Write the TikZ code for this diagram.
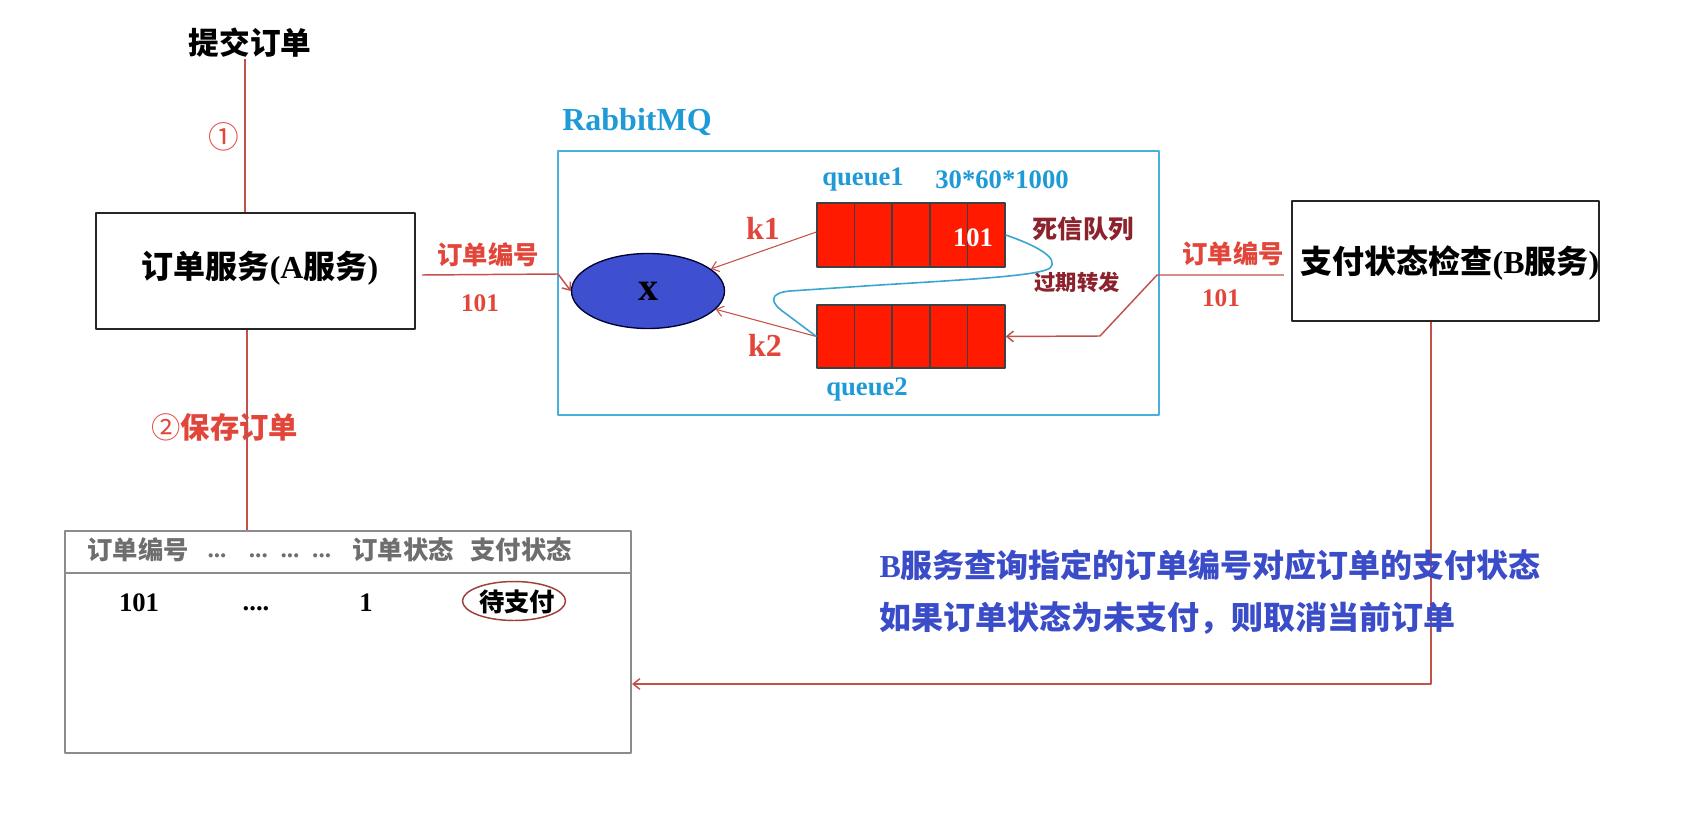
\documentclass[tikz,border=0pt]{standalone}
\usepackage{fontspec}
\setmainfont{Liberation Serif}
\newfontfamily\cjk{Noto Sans CJK SC}
\usetikzlibrary{arrows.meta,shapes.geometric,calc}
\definecolor{lred}{RGB}{196,80,74}
\definecolor{tred}{RGB}{226,70,58}
\definecolor{dred}{RGB}{140,34,44}
\definecolor{mqblue}{RGB}{30,154,214}
\definecolor{mqbox}{RGB}{72,176,220}
\definecolor{exfill}{RGB}{62,80,208}
\definecolor{qred}{RGB}{255,26,0}
\definecolor{curveblue}{RGB}{58,166,207}
\definecolor{tgray}{RGB}{140,140,140}
\definecolor{hgray}{RGB}{110,110,110}
\definecolor{noteblue}{RGB}{58,76,200}
\newcommand\fsz[1]{\fontsize{#1pt}{#1pt}\selectfont}
\begin{document}
\begin{tikzpicture}[x=0.75pt,y=-0.75pt,line join=round,
  txt/.style={inner sep=1pt},
  redl/.style={draw=lred,line width=1.1pt},
  thinr/.style={draw=lred,line width=0.8pt},
  arr/.style={-{Straight Barb[length=5pt,width=8pt]}},
  blackbox/.style={draw=black!85,line width=1.8pt,inner sep=0pt},
  queuebox/.style={draw=black!75,fill=qred,line width=1pt,inner sep=0pt,minimum width=141pt,minimum height=48pt}]
\useasboundingbox (0,0) rectangle (1694,820);

% top title and box A
\node[txt,font={\cjk\bfseries\fsz{23}}] (title) at (250,43) {提交订单};
\node[txt,text=tred,font={\cjk\fsz{23}}] (n1) at (224,137) {①};
\node[blackbox,minimum width=239.25pt,minimum height=87pt] (boxA) at (255.5,271) {};
\node[txt,font={\bfseries\fsz{24}}] (boxAtxt) at (260,268) {{\cjk 订单服务}(A{\cjk 服务})};
\coordinate (v1) at (245,0);
\draw[redl] (title.south -| v1) -- (boxA.north -| v1);

% labels A -> exchange
\node[txt,text=tred,font={\cjk\bfseries\fsz{19}}] (lblA1) at (488,255) {订单编号};
\node[txt,text=tred,font={\bfseries\fsz{19}}] (lblA2) at (480,303) {101};

% RabbitMQ
\node[txt,text=mqblue,font={\bfseries\fsz{24}}] (mqlbl) at (637,122) {RabbitMQ};
\node[draw=mqbox,line width=1.6pt,minimum width=450.75pt,minimum height=198pt,inner sep=0pt] (mq) at (858.5,283) {};
\node[ellipse,draw=black!80!blue,fill=exfill,line width=1pt,minimum width=114.75pt,minimum height=56.25pt,inner sep=0pt,font={\bfseries\fsz{30}}] (ex) at (648,291) {x};
\node[queuebox] (q1) at (911,235) {};
\node[queuebox,minimum height=47.25pt] (q2) at (911,336.5) {};
\foreach \i in {1,2,3,4}{
  \draw[black!75,line width=1pt] ($(q1.north west)!\i/5!(q1.north east)$) -- ($(q1.south west)!\i/5!(q1.south east)$);
  \draw[black!75,line width=1pt] ($(q2.north west)!\i/5!(q2.north east)$) -- ($(q2.south west)!\i/5!(q2.south east)$);
}
\node[txt,text=white,font={\bfseries\fsz{20}}] (msg) at (973,238) {101};
\node[txt,text=mqblue,font={\bfseries\fsz{20}}] (q1lbl) at (863,180) {queue1};
\node[txt,text=mqblue,font={\bfseries\fsz{20}}] (ttl) at (1002,180) {30*60*1000};
\node[txt,text=mqblue,font={\bfseries\fsz{20}}] (q2lbl) at (867,390) {queue2};
\node[txt,text=tred,font={\bfseries\fsz{24}}] (k1) at (763,228) {k1};
\node[txt,text=tred,font={\bfseries\fsz{24}}] (k2) at (765,345) {k2};
\node[txt,text=dred,font={\cjk\bfseries\fsz{19}}] (dlx) at (1083,229) {死信队列};
\node[txt,text=dred,font={\cjk\bfseries\fsz{16}}] (fwd) at (1077,282) {过期转发};

% A -> exchange
\coordinate (a1) at (558,274);
\draw[redl,arr] ($(boxA.east)+(6,4)$) -- (a1) -- (ex.west);
% bindings
\draw[thinr,arr] ($(q1.west)+(0,-3)$) -- (ex);
\draw[thinr,arr] (q2.west) -- (ex);
% dead-letter forwarding curve
\draw[curveblue,line width=1.2pt] (q1.east) .. controls (1035,245) and (1060,258) .. (1050,268)
  .. controls (1040,276) and (960,280) .. (880,285) -- (790,291)
  .. controls (768,293) and (770,303) .. (785,313) -- (q2.west);

% box B
\node[blackbox,minimum width=230.25pt,minimum height=90pt] (boxB) at (1445.5,261) {};
\node[txt,font={\bfseries\fsz{24}}] (boxBtxt) at (1450,263) {{\cjk 支付状态检查}(B{\cjk 服务})};
\node[txt,text=tred,font={\cjk\bfseries\fsz{19}}] (lblB1) at (1233,254) {订单编号};
\node[txt,text=tred,font={\bfseries\fsz{19}}] (lblB2) at (1221,298) {101};
\coordinate (b1) at (1157,275);
\coordinate (b2) at (1100,336);
\draw[redl,arr] ($(boxB.west |- b1)+(-7,0)$) -- (b1) -- (b2) -- (q2.east);

% table
\node[draw=tgray,line width=1.6pt,minimum width=424.5pt,minimum height=166.5pt,inner sep=0pt] (tbl) at (348,642) {};
\coordinate (h1) at (0,573);
\draw[tgray,line width=1.6pt] (tbl.west |- h1) -- (tbl.east |- h1);
\node[txt,text=hgray,font={\cjk\bfseries\fsz{19}}] (th1) at (138,550) {订单编号};
\node[txt,text=hgray,font={\bfseries\fsz{19}}] (th2) at (217,556) {...};
\node[txt,text=hgray,font={\bfseries\fsz{19}}] (th3) at (290,556) {...\ \ ...\ \ ...};
\node[txt,text=hgray,font={\cjk\bfseries\fsz{19}}] (th4) at (403,550) {订单状态};
\node[txt,text=hgray,font={\cjk\bfseries\fsz{19}}] (th5) at (521,550) {支付状态};
\node[txt,font={\bfseries\fsz{20}}] (td1) at (139,603) {101};
\node[txt,font={\bfseries\fsz{20}}] (td2) at (256,609) {....};
\node[txt,font={\bfseries\fsz{20}}] (td3) at (366,603) {1};
\node[txt,font={\cjk\bfseries\fsz{19}}] (td4) at (517,602) {待支付};
\node[ellipse,draw=lred!80!black,line width=1.1pt,minimum width=77.25pt,minimum height=29.25pt,inner sep=0pt] (td4mark) at (514,601) {};

% A -> table
\node[txt,anchor=west,text=tred,font={\cjk\fsz{22}}] (n2) at (150,427) {②{\bfseries 保存订单}};
\coordinate (d1) at (247,0);
\draw[redl] (boxA.south -| d1) -- (tbl.north -| d1);

% B -> table
\coordinate (c1) at (1431,684);
\draw[redl,arr] (boxB.south -| c1) -- (c1) -- (tbl.east |- c1);

% note
\node[txt,anchor=west,text=noteblue,font={\bfseries\fsz{24}}] (note1) at (878,565) {B{\cjk 服务查询指定的订单编号对应订单的支付状态}};
\node[txt,anchor=west,text=noteblue,font={\cjk\bfseries\fsz{24}}] (note2) at (878,618) {如果订单状态为未支付，则取消当前订单};
\end{tikzpicture}
\end{document}
